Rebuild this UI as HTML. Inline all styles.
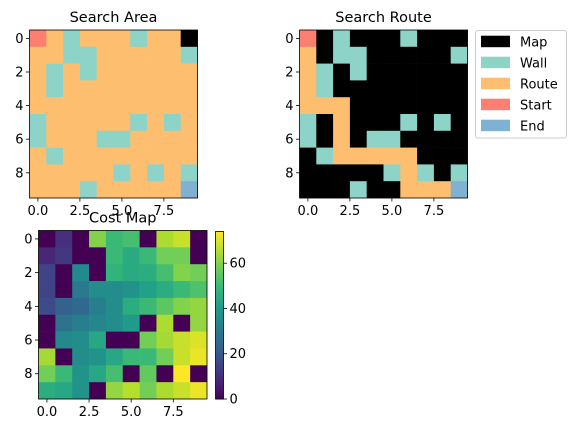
<!DOCTYPE html>
<html><head><meta charset="utf-8"><style>
body{margin:0;background:#fff}
svg text{font-family:"DejaVu Sans","Liberation Sans",sans-serif;font-size:13px;fill:#000}
</style></head><body>
<svg id="c" width="575" height="433" xmlns="http://www.w3.org/2000/svg"></svg>
<script>
// 0=Map,1=Wall,2=Route,3=Start,4=End
const categoryNames=["Map","Wall","Route","Start","End"];
const categoryColors=["#000000","#8dd3c7","#fdbf6f","#fb8072","#80b1d3"];
const searchArea=[
[3,2,1,2,2,2,1,2,2,0],
[2,2,1,1,2,2,2,2,2,1],
[2,1,2,1,2,2,2,2,2,2],
[2,1,2,2,2,2,2,2,2,2],
[2,2,2,2,2,2,2,2,2,2],
[1,2,2,2,2,2,1,2,1,2],
[1,2,2,2,1,1,2,2,2,2],
[2,1,2,2,2,2,2,2,2,2],
[2,2,2,2,2,1,2,1,2,1],
[2,2,2,1,2,2,2,2,2,4]];
const searchRoute=[
[3,0,1,0,0,0,1,0,0,0],
[2,0,1,1,0,0,0,0,0,1],
[2,1,0,1,0,0,0,0,0,0],
[2,1,0,0,0,0,0,0,0,0],
[2,2,2,0,0,0,0,0,0,0],
[1,0,2,0,0,0,1,0,1,0],
[1,0,2,0,1,1,0,0,0,0],
[0,1,2,2,2,2,2,0,0,0],
[0,0,0,0,0,1,2,1,0,1],
[0,0,0,1,0,0,2,2,2,4]];
const costMap=[
[0,10,0,60,50,52,0,65,68,0],
[8,12,0,0,50,45,50,58,58,0],
[15,0,35,0,48,45,46,52,60,58],
[15,0,30,36,36,38,42,46,50,53],
[17,23,25,32,36,46,50,55,60,62],
[0,28,32,34,36,40,0,65,0,62],
[0,35,36,44,0,0,58,64,68,70],
[64,0,36,38,44,50,50,58,68,72],
[58,50,38,44,52,0,56,0,74,0],
[46,44,38,0,62,66,58,65,68,72]];
const xTickLabels=["0.0","2.5","5.0","7.5"];
const xTickValues=[0,2.5,5,7.5];
const yTickValues=[0,2,4,6,8];
const cbTicks=[0,20,40,60];
const vmax=74;

const NS="http://www.w3.org/2000/svg";
const svg=document.getElementById('c');
function mk(t,a,p){const e=document.createElementNS(NS,t);for(const k in a)e.setAttribute(k,a[k]);(p||svg).appendChild(e);return e;}
const vir=[[68,1,84],[72,40,120],[62,74,137],[49,104,142],[38,130,142],[31,158,137],[53,183,121],[109,205,89],[180,222,44],[253,231,37]];
function viridis(v){let t=Math.max(0,Math.min(1,v/vmax))*9;const i=Math.min(8,Math.floor(t)),f=t-i;const a=vir[i],b=vir[i+1];return `rgb(${a.map((c,k)=>Math.round(c+(b[k]-c)*f)).join(',')})`;}

function panel(name,x0,y0,size,data,colorFn,title){
  const g=mk('g',{});
  
  
  const n=data.length,cs=size/n;
  const sx=v=>x0+(v+0.5)*cs, sy=v=>y0+(v+0.5)*cs;
  data.forEach((row,r)=>row.forEach((v,c)=>{
    const e=mk('rect',{x:x0+c*cs,y:y0+r*cs,width:cs+0.3,height:cs+0.3,fill:colorFn(v)},g);
    
    
  }));
  mk('rect',{x:x0,y:y0,width:size,height:size,fill:'none',stroke:'#000','stroke-width':0.8},g);
  xTickValues.forEach((v,i)=>{const x=sx(v);mk('line',{x1:x,x2:x,y1:y0+size,y2:y0+size+3.5,stroke:'#000','stroke-width':0.8},g);
    const t=mk('text',{x:x,y:y0+size+17,'text-anchor':'middle'},g);t.textContent=xTickLabels[i];
    });
  yTickValues.forEach(v=>{const y=sy(v);mk('line',{x1:x0-3.5,x2:x0,y1:y,y2:y,stroke:'#000','stroke-width':0.8},g);
    const t=mk('text',{x:x0-6,y:y+4.5,'text-anchor':'end'},g);t.textContent=v;
    });
  const tt=mk('text',{x:x0+size/2,y:y0-8,'text-anchor':'middle',style:'font-size:14.5px'},g);tt.textContent=title;
  
}
panel('search-area-panel',29.5,30,168,searchArea,v=>categoryColors[v],'Search Area');
panel('search-route-panel',299.5,30,168,searchRoute,v=>categoryColors[v],'Search Route');
panel('cost-map-panel',38.5,230.5,168.5,costMap,viridis,'Cost Map');

// colorbar
const cb=mk('g',{});


const cbX=215.5,cbW=8,cbTop=231.5,cbBot=399;
const cy=v=>cbBot-(v/vmax)*(cbBot-cbTop);
for(let i=0;i<100;i++){const v0=i/100*vmax,v1=(i+1)/100*vmax;mk('rect',{x:cbX,y:cy(v1),width:cbW,height:cy(v0)-cy(v1)+0.5,fill:viridis((v0+v1)/2)},cb);}
mk('rect',{x:cbX,y:cbTop,width:cbW,height:cbBot-cbTop,fill:'none',stroke:'#000','stroke-width':0.8},cb);
cbTicks.forEach(v=>{const y=cy(v);mk('line',{x1:cbX+cbW,x2:cbX+cbW+3.5,y1:y,y2:y,stroke:'#000','stroke-width':0.8},cb);
  const t=mk('text',{x:cbX+cbW+6,y:y+4.5},cb);t.textContent=v;
  });

// legend
const lg=mk('g',{});


mk('rect',{x:475.5,y:30.5,width:91,height:107.5,rx:2.5,fill:'#fff',stroke:'#ccc','stroke-width':1},lg);
categoryNames.forEach((nm,i)=>{const y=41.7+i*21;
  const e=mk('g',{},lg);
  
  
  mk('rect',{x:481,y:y-6,width:29,height:11.5,fill:categoryColors[i]},e);
  const t=mk('text',{x:520,y:y+5},e);t.textContent=nm;});
</script>
</body></html>
